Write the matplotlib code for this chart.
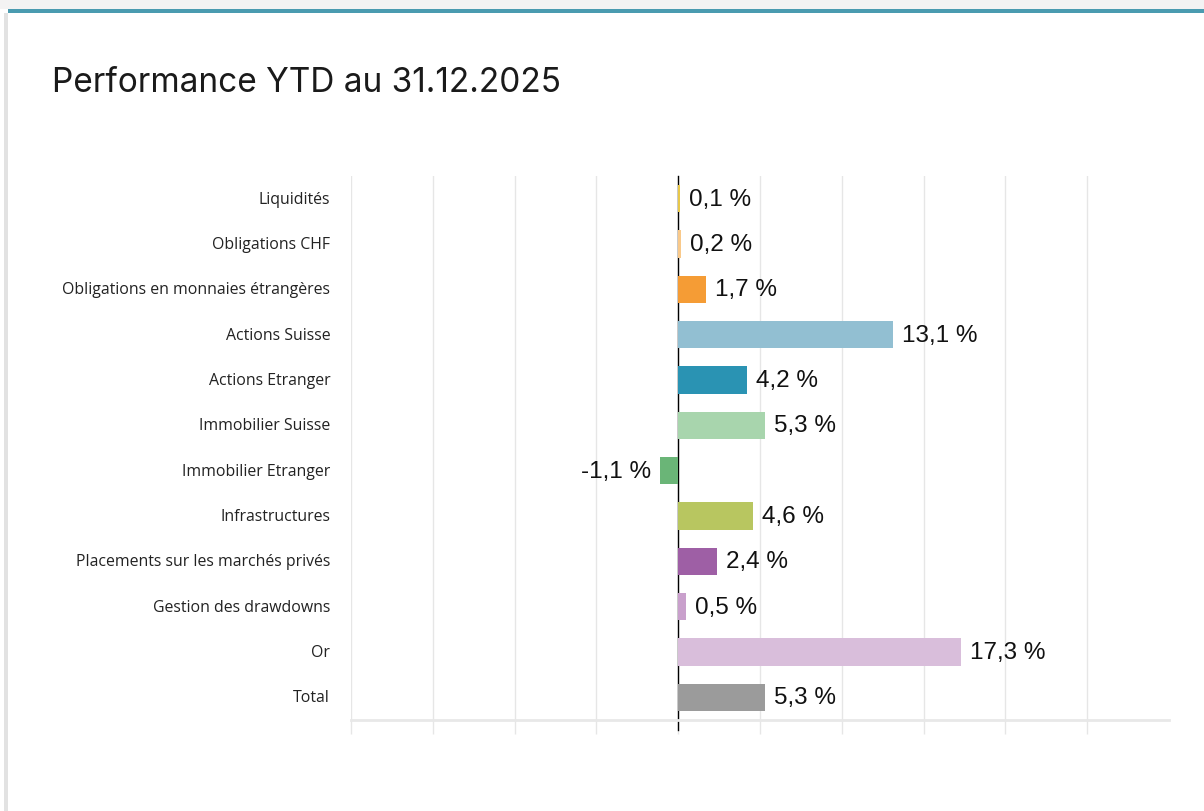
import matplotlib
matplotlib.use("Agg")
import matplotlib.pyplot as plt
from matplotlib.patches import Rectangle
from matplotlib.lines import Line2D
import matplotlib.transforms as mtransforms

# Data
categories = ["Liquidités", "Obligations CHF", "Obligations en monnaies étrangères",
              "Actions Suisse", "Actions Etranger", "Immobilier Suisse",
              "Immobilier Etranger", "Infrastructures",
              "Placements sur les marchés privés", "Gestion des drawdowns",
              "Or", "Total"]
values = [0.1, 0.2, 1.7, 13.1, 4.2, 5.3, -1.1, 4.6, 2.4, 0.5, 17.3, 5.3]
colors = ["#e8c84a", "#f9c98a", "#f59c35", "#92bfd2", "#2a93b3", "#a8d5ad",
          "#6ab577", "#b8c660", "#9e5fa5", "#c9a0cc", "#d9bedb", "#9b9b9b"]
grid_ticks = [-20, -15, -10, -5, 0, 5, 10, 15, 20, 25]

fig = plt.figure(figsize=(12.04, 8.12), dpi=100)
fig.patch.set_facecolor("white")

# card decoration: teal top border and soft left shadow
fig.add_artist(Rectangle((8 / 1204, 1 - 14 / 812), 1, 4 / 812, transform=fig.transFigure,
                         facecolor="#4a9bb0", edgecolor="none"))
fig.add_artist(Rectangle((0, 1 - 10 / 812), 1, 10 / 812, transform=fig.transFigure,
                         facecolor="#f3f3f3", edgecolor="none"))
fig.add_artist(Rectangle((4 / 1204, 0), 4 / 1204, 1 - 14 / 812, transform=fig.transFigure,
                         facecolor="#e2e2e2", edgecolor="none"))

fig.text(52 / 1204, 1 - 92 / 812, "Performance YTD au 31.12.2025", family="Inter",
         fontsize=24, color="#1a1a1a", ha="left", va="baseline")

ax = fig.add_axes([351 / 1204, 91 / 812, 818 / 1204, 544 / 812])
y = list(range(len(categories)))
ax.barh(y, values, height=0.6, color=colors, edgecolor="none", zorder=3)

ax.set_xlim(-20, 30)
ax.set_ylim(len(categories) - 0.5, -0.5)

ax.set_yticks(y)
ax.set_yticklabels(categories, family="Open Sans", fontsize=11.4, color="#222222")
ax.tick_params(axis="y", length=0, pad=15)
for t in ax.get_yticklabels():
    t.set_transform(t.get_transform() + mtransforms.ScaledTranslation(0, 2 / 100, fig.dpi_scale_trans))

ax.set_xticks(grid_ticks)
ax.set_xticklabels([])
ax.tick_params(axis="x", length=10, width=1, color="#e6e6e6")
ax.grid(axis="x", color="#e6e6e6", linewidth=1, zorder=0)

for s in ["top", "right", "left"]:
    ax.spines[s].set_visible(False)
ax.spines["bottom"].set_color("#e8e8e8")
ax.spines["bottom"].set_linewidth(2)

# zero line extends below the axis like a tick
trans = mtransforms.blended_transform_factory(ax.transData, ax.transAxes)
ax.add_line(Line2D([0, 0], [-10 / 544, 1], transform=trans, color="black",
                   linewidth=1, clip_on=False, zorder=2))

off = mtransforms.offset_copy(ax.transData, fig=fig, x=9, y=0, units="dots")
off_neg = mtransforms.offset_copy(ax.transData, fig=fig, x=-9, y=0, units="dots")
for yi, v in zip(y, values):
    label = f"{v:.1f} %".replace(".", ",")
    if v >= 0:
        ax.text(v, yi, label, transform=off, ha="left", va="center",
                family="Liberation Sans", fontsize=17.5, color="#111111")
    else:
        ax.text(v, yi, label, transform=off_neg, ha="right", va="center",
                family="Liberation Sans", fontsize=17.5, color="#111111")

fig.savefig("out.png", dpi=100, facecolor=fig.get_facecolor())
